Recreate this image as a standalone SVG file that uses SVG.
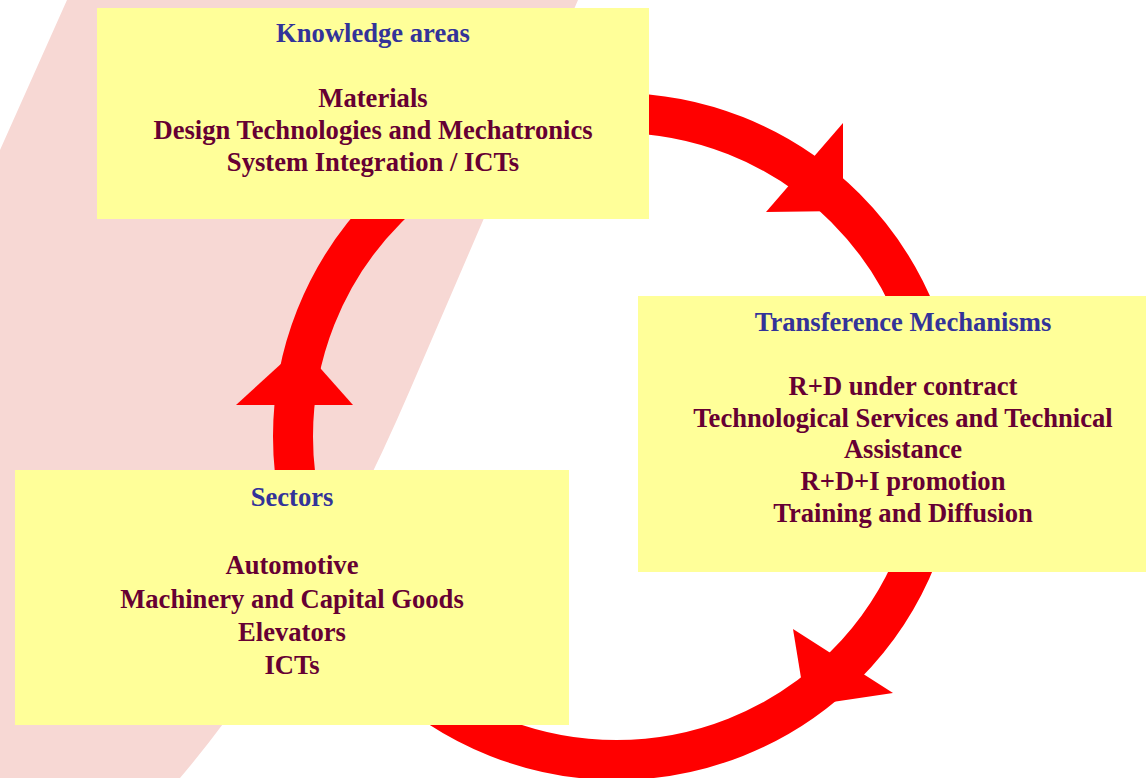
<svg xmlns="http://www.w3.org/2000/svg" width="1146" height="778" viewBox="0 0 1146 778">
<style>
.box{fill:#FFFF99}
.t{font-family:"Liberation Serif","Times New Roman",serif;font-weight:bold;font-size:26.6px;text-anchor:middle}
.title{fill:#333399}
.body{fill:#660033}
.arrow{fill:#FF0000}
</style>
<rect width="1146" height="778" fill="#FFFFFF"/>
<path d="M 67 0 L 578 0 L 410 390 Q 307.8 627.6 180 778 L 0 778 L 0 150 Z" fill="#F7D8D4"/>
<g id="connectors">
<circle cx="616.5" cy="436.5" r="323.5" fill="none" stroke="#FF0000" stroke-width="40"/>
<polygon class="arrow" points="843,123 766,212 843,211"/>
<polygon class="arrow" points="793,629 893,693 805.6,706"/>
<polygon class="arrow" points="236,405 353,405 300.6,346"/>
</g>
<g id="knowledge">
<rect class="box" x="97" y="8" width="552" height="211"/>
<text class="t title" x="373" y="42">Knowledge areas</text>
<text class="t body" x="373" y="107">Materials</text>
<text class="t body" x="373" y="139">Design Technologies and Mechatronics</text>
<text class="t body" x="373" y="171">System Integration / ICTs</text>
</g>
<g id="transference">
<rect class="box" x="638" y="296" width="508" height="276"/>
<text class="t title" x="903" y="331">Transference Mechanisms</text>
<text class="t body" x="903" y="395">R+D under contract</text>
<text class="t body" x="903" y="427">Technological Services and Technical</text>
<text class="t body" x="903" y="458">Assistance</text>
<text class="t body" x="903" y="490">R+D+I promotion</text>
<text class="t body" x="903" y="522">Training and Diffusion</text>
</g>
<g id="sectors">
<rect class="box" x="15" y="470" width="554" height="255"/>
<text class="t title" x="292" y="506">Sectors</text>
<text class="t body" x="292" y="574">Automotive</text>
<text class="t body" x="292" y="608">Machinery and Capital Goods</text>
<text class="t body" x="292" y="641">Elevators</text>
<text class="t body" x="292" y="674">ICTs</text>
</g>
</svg>
